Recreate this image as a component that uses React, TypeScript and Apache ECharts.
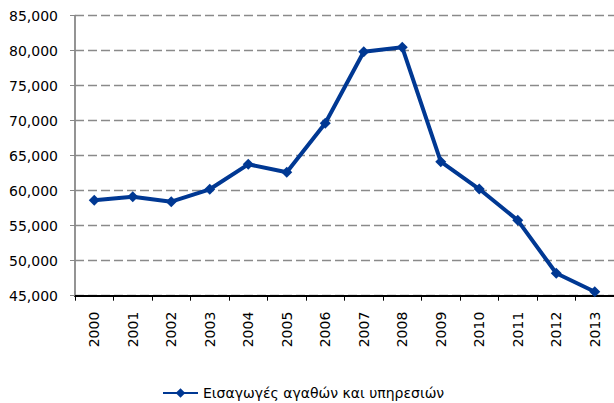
import React, { useEffect, useRef } from "react";
import * as echarts from "echarts";

const years = ["2000", "2001", "2002", "2003", "2004", "2005", "2006", "2007", "2008", "2009", "2010", "2011", "2012", "2013"];
const imports = [58630, 59140, 58430, 60200, 63770, 62630, 69630, 79860, 80490, 64140, 60240, 55770, 48200, 45570];
const seriesName = "Εισαγωγές αγαθών και υπηρεσιών";

const FONT = "DejaVu Sans";
const BLUE = "#003893";

export default function App() {
  const ref = useRef<HTMLDivElement>(null);
  useEffect(() => {
    if (!ref.current) return;
    const chart = echarts.init(ref.current, undefined, { renderer: "svg" });
    chart.setOption({
      animation: false,
      backgroundColor: "#ffffff",
      grid: { left: 75, right: 0, top: 15.7, bottom: 107.3, containLabel: false },
      legend: {
        left: 162,
        top: 386,
        padding: 0,
        itemWidth: 35,
        itemHeight: 12,
        itemGap: 5,
        textStyle: { fontFamily: FONT, fontSize: 14, color: "#000" },
        data: [seriesName],
      },
      xAxis: {
        type: "category",
        data: years,
        boundaryGap: true,
        axisLine: { lineStyle: { color: "#000", width: 2 } },
        axisTick: { show: true, length: 5, lineStyle: { color: "#000", width: 1 } },
        axisLabel: { rotate: 90, margin: 16, fontFamily: FONT, fontSize: 14, color: "#000" },
        splitLine: { show: false },
      },
      yAxis: {
        type: "value",
        min: 45000,
        max: 85000,
        interval: 5000,
        axisLine: { show: true, lineStyle: { color: "#888", width: 1.8 } },
        axisTick: { show: true, length: 5, lineStyle: { color: "#888", width: 1 } },
        axisLabel: {
          margin: 17,
          fontFamily: FONT,
          fontSize: 14,
          color: "#000",
          formatter: (v: number) => v.toLocaleString("en-US"),
        },
        splitLine: { show: true, lineStyle: { color: "#8a8a8a", width: 1.3, type: [9, 4] } },
      },
      series: [
        {
          name: seriesName,
          type: "line",
          data: imports,
          symbol: "diamond",
          symbolSize: 11,
          lineStyle: { color: BLUE, width: 4 },
          itemStyle: { color: BLUE },
        },
      ],
    });
    return () => chart.dispose();
  }, []);
  return <div ref={ref} style={{ width: 614, height: 403, position: "absolute", left: 0, top: 0 }} />;
}
